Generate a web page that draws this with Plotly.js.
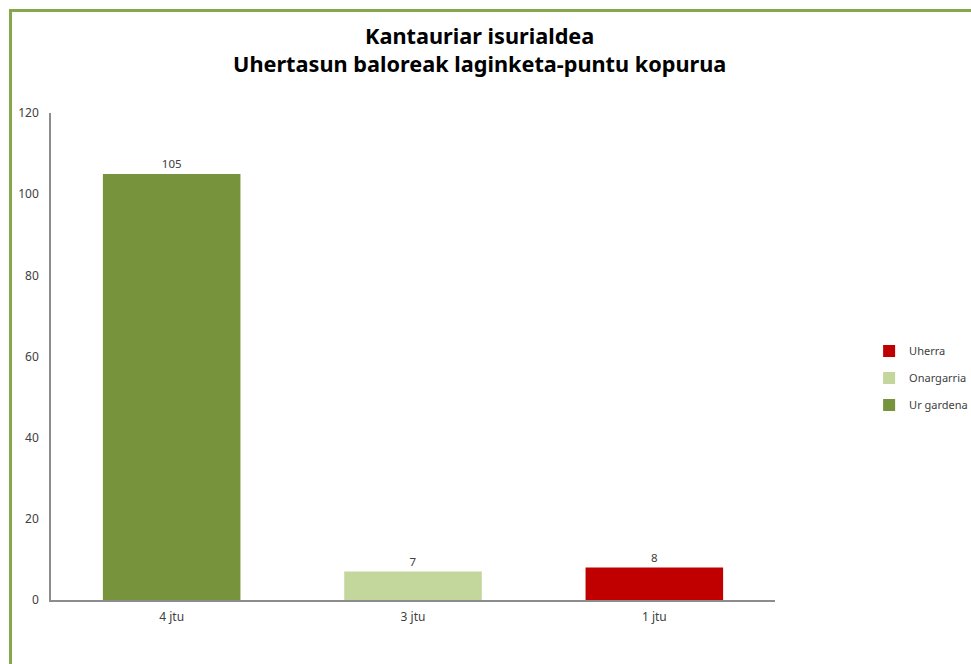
<!DOCTYPE html>
<html>
<head>
<meta charset="utf-8">
<script src="https://cdn.plot.ly/plotly-3.0.1.min.js"></script>
<style>
  html, body { margin: 0; padding: 0; background: #ffffff; overflow: hidden; }
  #chart { position: absolute; left: 0; top: 0; width: 971px; height: 664px; }
  #frame { position: absolute; left: 9px; top: 9px; width: 2000px; height: 2000px;
           border-top: 3px solid #86A84A; border-left: 3px solid #86A84A; pointer-events: none; z-index: 5; }
</style>
</head>
<body>
<div id="chart"></div>
<div id="frame"></div>
<script>
// Data
const categories = ['4 jtu', '3 jtu', '1 jtu'];
const seriesNames = ['Uherra', 'Onargarria', 'Ur gardena'];
const seriesCategories = ['1 jtu', '3 jtu', '4 jtu'];
const seriesValues = [8, 7, 105];
const yTickValues = [0, 20, 40, 60, 80, 100, 120];
const titleLines = ['Kantauriar isurialdea', 'Uhertasun baloreak laginketa-puntu kopurua'];

// Styles
const seriesColors = ['#C00000', '#C3D69B', '#77933C'];
const FONT = 'Noto Sans, Open Sans, sans-serif';

const traces = seriesNames.map((name, i) => ({
  type: 'bar',
  name: name,
  x: [seriesCategories[i]],
  y: [seriesValues[i]],
  marker: { color: seriesColors[i], line: { width: 0 } },
  text: [String(seriesValues[i])],
  textposition: 'outside',
  textfont: { family: FONT, size: 11.5, color: '#404040' },
  cliponaxis: false,
  legendgroup: 'g' + i,
  hoverinfo: 'x+y+name'
}));

const layout = {
  width: 971,
  height: 664,
  margin: { l: 51, r: 196, t: 113, b: 64, autoexpand: false },
  paper_bgcolor: '#ffffff',
  plot_bgcolor: '#ffffff',
  barmode: 'overlay',
  bargap: 0.43,
  font: { family: FONT, size: 11, color: '#404040' },
  title: {
    text: '<b>' + titleLines.join('<br>') + '</b>',
    font: { family: FONT, size: 21.7, color: '#000000' },
    x: 0.494, xanchor: 'center',
    y: 0.934, yanchor: 'top',
    xref: 'container', yref: 'container'
  },
  xaxis: {
    type: 'category',
    categoryorder: 'array',
    categoryarray: categories,
    showline: true,
    linecolor: '#8C8C8C',
    linewidth: 1.5,
    ticks: '',
    showgrid: false,
    ticklabelstandoff: 5,
    tickfont: { family: FONT, size: 12, color: '#404040' },
    fixedrange: true
  },
  yaxis: {
    range: [0, 120],
    tickvals: yTickValues,
    showline: true,
    linecolor: '#8C8C8C',
    linewidth: 1.5,
    ticks: '',
    showgrid: false,
    zeroline: false,
    ticklabelstandoff: 8,
    tickfont: { family: FONT, size: 12, color: '#404040' },
    fixedrange: true
  },
  showlegend: true,
  legend: {
    x: 1.130, xanchor: 'left',
    y: 0.456, yanchor: 'middle',
    traceorder: 'grouped',
    tracegroupgap: 8,
    itemwidth: 30,
    font: { family: FONT, size: 11, color: '#404040' },
    bgcolor: 'rgba(0,0,0,0)'
  }
};

Plotly.newPlot('chart', traces, layout, { displayModeBar: false, staticPlot: false });
</script>
</body>
</html>
